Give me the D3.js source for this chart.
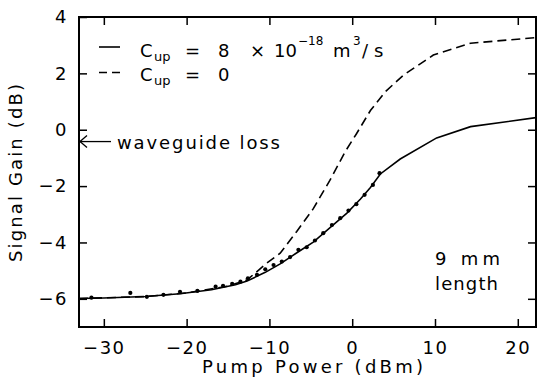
<!DOCTYPE html>
<html>
<head>
<meta charset="utf-8">
<script src="https://cdn.jsdelivr.net/npm/d3@7"></script>
<style>
  html, body { margin: 0; padding: 0; background: #fff; }
  svg { display: block; }
  text { font-family: "DejaVu Sans", sans-serif; fill: #000; }
</style>
</head>
<body>
<svg id="chart" width="537" height="380"></svg>
<script>
// ---- data ----
const xTicks = [-30, -20, -10, 0, 10, 20];
const yTicks = [-6, -4, -2, 0, 2, 4];
const rightTicks = [-6, -4, -2, 0, 2];

// C_up = 8e-18 m^3/s (solid)
const solidX = [-33, -30, -25, -20.8, -17, -14.1, -12.7, -10.5, -8.7, -6.5, -4.7, -2.5, -0.64, 1, 2.2, 3.4, 5.8, 10.2, 14.3, 22.2];
const solidY = [-5.99, -5.97, -5.92, -5.82, -5.68, -5.50, -5.37, -5.06, -4.76, -4.33, -3.99, -3.43, -2.96, -2.46, -2.05, -1.57, -1.04, -0.29, 0.11, 0.43];

// C_up = 0 (dashed)
const dashX = [-33, -25, -20, -15, -12.7, -10.3, -8.7, -6.7, -4.7, -2.7, -0.85, 0.5, 2.2, 4, 6.2, 9.8, 14.3, 22.2];
const dashY = [-5.99, -5.92, -5.79, -5.55, -5.33, -4.73, -4.38, -3.61, -2.80, -1.80, -0.78, -0.15, 0.68, 1.35, 1.94, 2.65, 3.07, 3.27];

// measured points
const dotX = [-31.5, -26.8, -24.8, -22.8, -20.8, -18.7, -16.5, -15.6, -14.5, -13.5, -12.6, -11.5, -10.5, -9.5, -8.5, -7.5, -6.5, -5.5, -4.5, -3.5, -2.45, -1.45, -0.45, 0.5, 1.5, 2.5, 3.3];
const dotY = [-5.96, -5.79, -5.93, -5.86, -5.75, -5.72, -5.57, -5.54, -5.47, -5.39, -5.27, -5.15, -4.95, -4.80, -4.68, -4.52, -4.26, -4.17, -3.93, -3.67, -3.38, -3.14, -2.87, -2.64, -2.31, -1.96, -1.54];

const waveguideLoss = -0.42;

(function () {
const svg = d3.select("#chart");
const L = 79, R = 536, T = 17, B = 327;
const x = d3.scaleLinear().domain([-33, 22.2]).range([L, R]);
const y = d3.scaleLinear().domain([-7, 4]).range([B, T]);

const zip = (a, b) => a.map((v, i) => [v, b[i]]);
const line = d3.line().x(d => x(d[0])).y(d => y(d[1]));

svg.append("clipPath").attr("id", "clip")
  .append("rect").attr("x", L).attr("y", T).attr("width", R - L).attr("height", B - T);

const fs = 18;
const gBottom = svg.append("g").attr("transform", `translate(0,${B})`)
  .call(d3.axisBottom(x).tickValues(xTicks).tickSizeInner(-8).tickSizeOuter(0).tickPadding(14));
const gTop = svg.append("g").attr("transform", `translate(0,${T})`)
  .call(d3.axisTop(x).tickValues(xTicks).tickSizeInner(-8).tickSizeOuter(0).tickFormat(""));
const gLeft = svg.append("g").attr("transform", `translate(${L},0)`)
  .call(d3.axisLeft(y).tickValues(yTicks).tickSizeInner(-8).tickSizeOuter(0).tickPadding(11));
const gRight = svg.append("g").attr("transform", `translate(${R},0)`)
  .call(d3.axisRight(y).tickValues(rightTicks).tickSizeInner(-8).tickSizeOuter(0).tickFormat(""));

[gBottom, gTop, gLeft, gRight].forEach(g => {
  g.select(".domain").remove();
  g.selectAll(".tick line").attr("stroke", "#000").attr("stroke-width", 1.5);
  g.selectAll(".tick text").attr("font-size", fs).attr("font-family", "DejaVu Sans").attr("fill", "#000");
});
gBottom.selectAll(".tick text").attr("letter-spacing", 1.5);
gLeft.selectAll(".tick text").attr("letter-spacing", 1.5);

svg.append("rect").attr("x", L).attr("y", T).attr("width", R - L).attr("height", B - T)
  .attr("fill", "none").attr("stroke", "#000").attr("stroke-width", 2);

const plot = svg.append("g").attr("clip-path", "url(#clip)");

plot.append("path").datum(zip(dashX, dashY))
  .attr("d", line).attr("fill", "none").attr("stroke", "#000")
  .attr("stroke-width", 1.6).attr("stroke-dasharray", "9,5");

plot.append("path").datum(zip(solidX, solidY))
  .attr("d", line).attr("fill", "none").attr("stroke", "#000").attr("stroke-width", 1.6);

plot.selectAll("circle").data(zip(dotX, dotY)).join("circle")
  .attr("cx", d => x(d[0])).attr("cy", d => y(d[1])).attr("r", 2.1).attr("fill", "#000");

// waveguide loss arrow
const ay = y(waveguideLoss);
svg.append("line").attr("x1", L + 1).attr("x2", 111).attr("y1", ay).attr("y2", ay)
  .attr("stroke", "#000").attr("stroke-width", 1.3);
svg.append("path").attr("d", `M${L + 8},${ay - 6} L${L + 1},${ay} L${L + 8},${ay + 6}`)
  .attr("fill", "none").attr("stroke", "#000").attr("stroke-width", 1.3);
svg.append("text").attr("x", 117).attr("y", ay + 7).attr("font-size", fs)
  .attr("textLength", 163).attr("lengthAdjust", "spacing").text("waveguide loss");

// legend
svg.append("line").attr("x1", 99).attr("x2", 120).attr("y1", 47).attr("y2", 47)
  .attr("stroke", "#000").attr("stroke-width", 1.6);
svg.append("line").attr("x1", 99).attr("x2", 120).attr("y1", 72.5).attr("y2", 72.5)
  .attr("stroke", "#000").attr("stroke-width", 1.6).attr("stroke-dasharray", "8,5");

function legendRow(by, parts) {
  const t = svg.append("text").attr("font-size", fs);
  parts.forEach(p => {
    t.append("tspan").attr("x", p[0]).attr("y", by + (p[2] || 0))
      .attr("font-size", p[3] || fs).text(p[1]);
  });
}
legendRow(57, [
  [140, "C"], [154, "up", 4, 13], [185, "="], [218, "8"], [250, "×"],
  [274, "10"], [298, "−18", -12, 12], [333, "m"], [353, "3", -12, 12], [362, "/"], [374, "s"]
]);
legendRow(81, [
  [140, "C"], [154, "up", 4, 13], [185, "="], [218, "0"]
]);

svg.append("text").attr("x", 435).attr("y", 265).attr("font-size", fs)
  .attr("textLength", 65).attr("lengthAdjust", "spacing").text("9 mm");
svg.append("text").attr("x", 435).attr("y", 290).attr("font-size", fs)
  .attr("textLength", 63).attr("lengthAdjust", "spacing").text("length");

svg.append("text").attr("x", 202).attr("y", 373).attr("font-size", fs)
  .attr("textLength", 221).attr("lengthAdjust", "spacing").text("Pump Power (dBm)");
svg.append("text").attr("transform", `translate(22,262) rotate(-90)`).attr("font-size", fs)
  .attr("textLength", 178).attr("lengthAdjust", "spacing").text("Signal Gain (dB)");
})();
</script>
</body>
</html>
